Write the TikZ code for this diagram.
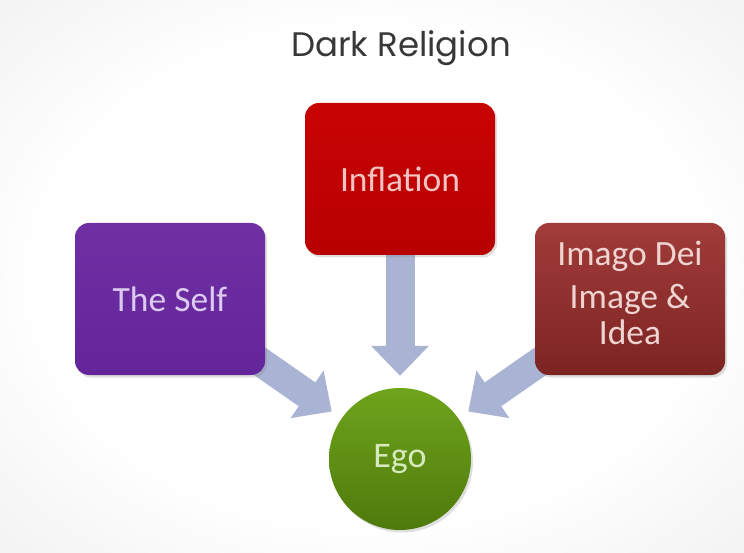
\documentclass[tikz,border=0pt]{standalone}
\usepackage{fontspec}
\setmainfont{Carlito}
\newfontfamily\titlefont{Poppins}
\usetikzlibrary{arrows.meta,shadows}
\pgfdeclarelayer{bg}
\pgfdeclarelayer{arr}
\pgfsetlayers{bg,arr,main}
\definecolor{arrowc}{HTML}{A9B3D3}
\definecolor{infA}{HTML}{C80404}
\definecolor{infB}{HTML}{B80000}
\definecolor{selfA}{HTML}{7030A4}
\definecolor{selfB}{HTML}{64259A}
\definecolor{imgA}{HTML}{A13C3A}
\definecolor{imgB}{HTML}{7C2422}
\definecolor{egoA}{HTML}{6FA41C}
\definecolor{egoB}{HTML}{4E7A0C}
\definecolor{infT}{HTML}{F2C4C4}
\definecolor{selfT}{HTML}{DCCAF0}
\definecolor{imgT}{HTML}{F0D4D2}
\definecolor{egoT}{HTML}{D6EABC}
\pgfdeclareradialshading{bgshade}{\pgfpoint{0bp}{0bp}}{%
  color(0bp)=(white); color(22bp)=(white); color(36bp)=(black!5);
  color(50bp)=(black!15); color(72bp)=(black!24)}
\tikzset{
  boxshape/.style={rectangle, rounded corners=14pt, minimum width=190pt,
    minimum height=152pt, inner sep=0pt, font=\fontsize{35.5}{37}\selectfont,
    drop shadow={opacity=0.25, shadow xshift=2pt, shadow yshift=-2.5pt}},
  egoshape/.style={circle, minimum size=142pt, inner sep=0pt,
    font=\fontsize{36}{37}\selectfont,
    drop shadow={opacity=0.25, shadow xshift=2pt, shadow yshift=-2.5pt}},
  bigarrow/.style={draw=arrowc, line width=29pt,
    -{Triangle[length=30pt,width=56pt]}, shorten >=12pt},
}
\begin{document}
\begin{tikzpicture}[x=1pt,y=-1pt]
\begin{pgfonlayer}{bg}
  \shade[shading=bgshade] (0,0) rectangle (744,553);
\end{pgfonlayer}
\path[use as bounding box] (0,0) rectangle (744,553);

\node[font=\titlefont\fontsize{34}{40}\selectfont, text=black!78] (title) at (401,48) {Dark Religion};

\node[boxshape, top color=infA, bottom color=infB, text=infT] (inf) at (400,179) {Inflation};
\node[boxshape, top color=selfA, bottom color=selfB, text=selfT] (self) at (170,299) {The Self};
\node[boxshape, top color=imgA, bottom color=imgB] (imago) at (630,299) {};
\node[align=center, text=imgT, font=\fontsize{35.5}{36}\selectfont, inner sep=0pt] (imagotxt) at (630,292.5)
  {Imago Dei\\[7pt]Image \&\\Idea};
\node[egoshape, top color=egoA, bottom color=egoB, text=egoT] (ego) at (400,459) {Ego};

\begin{pgfonlayer}{arr}
  \draw[bigarrow] (inf.center) -- (ego);
  \draw[bigarrow] (self.center) -- (ego);
  \draw[bigarrow] (imago.center) -- (ego);
\end{pgfonlayer}
\end{tikzpicture}
\end{document}
